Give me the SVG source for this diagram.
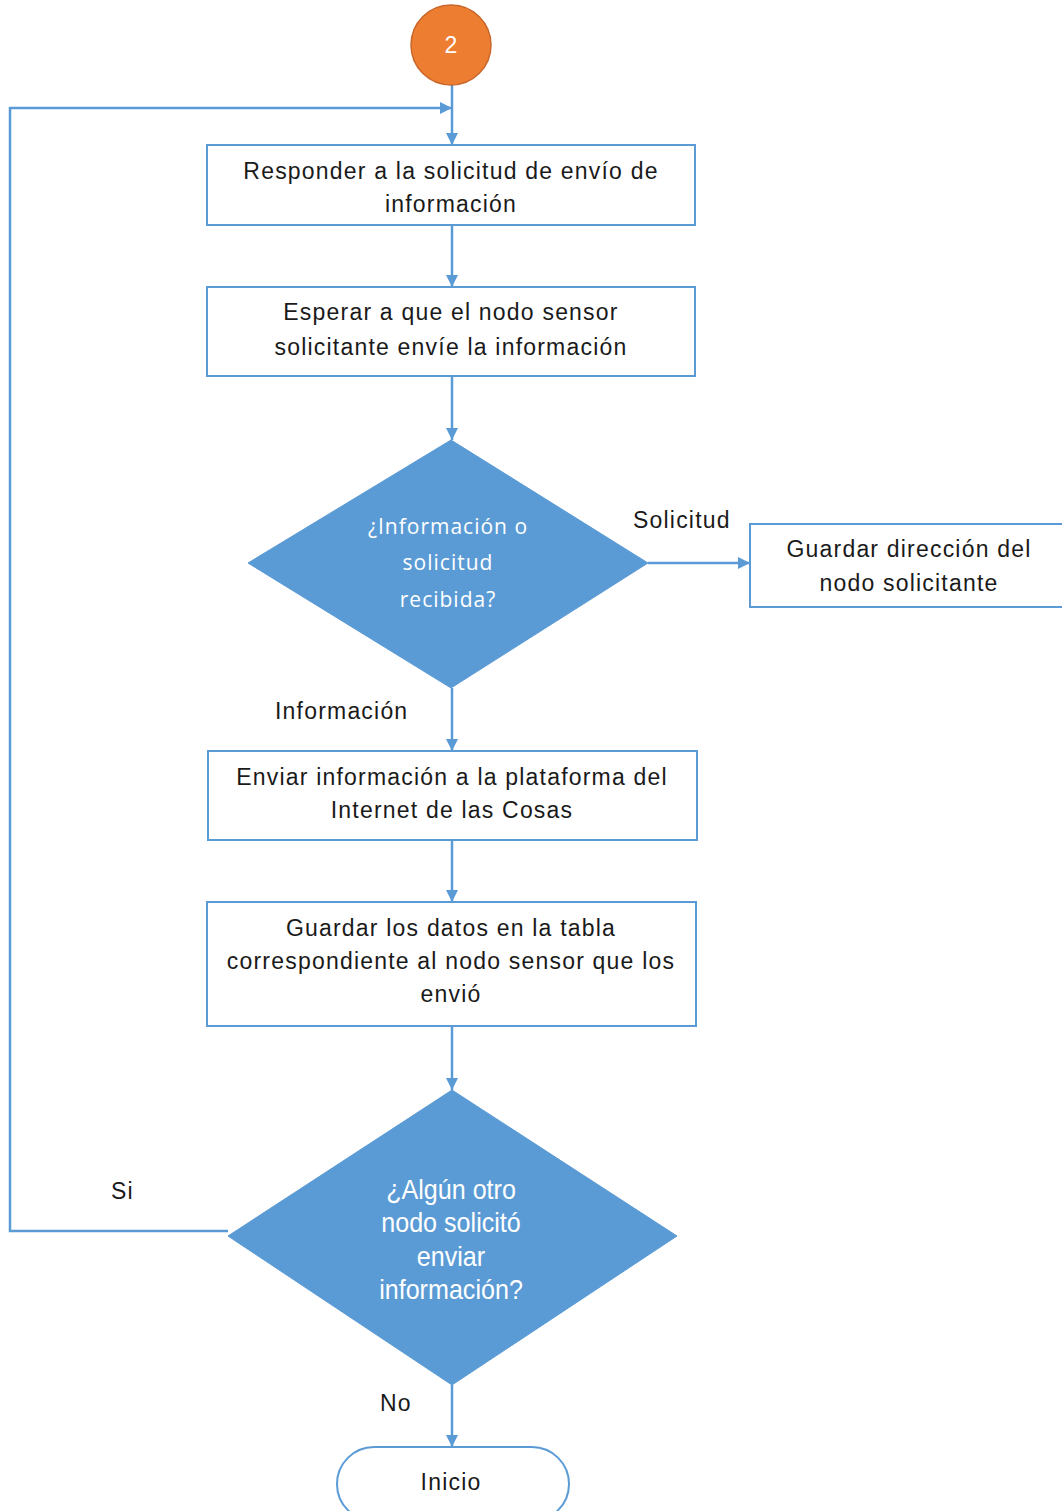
<svg xmlns="http://www.w3.org/2000/svg" width="1062" height="1511" viewBox="0 0 1062 1511">
  <style>
    .box { fill: #ffffff; stroke: #5b9bd5; stroke-width: 2; }
    .dec { fill: #5b9bd5; stroke: #5b9bd5; stroke-width: 1; }
    .txt { font-family: "Liberation Sans", Arial, sans-serif; font-size: 23px; letter-spacing: 1.2px; fill: #1a1a1a; text-anchor: middle; }
    .wtxt { font-family: "Open Sans", "Liberation Sans", sans-serif; font-size: 21px; letter-spacing: 1px; fill: #ffffff; text-anchor: middle; }
    .ntxt { font-family: "Liberation Sans", Arial, sans-serif; font-size: 27px; fill: #ffffff; text-anchor: middle; }
    .ctxt { font-family: "Liberation Sans", Arial, sans-serif; font-size: 23px; fill: #ffffff; text-anchor: middle; }
    .lbl { font-family: "Liberation Sans", Arial, sans-serif; font-size: 23px; letter-spacing: 1.2px; fill: #1a1a1a; }
    .conn { fill: none; stroke: #5b9bd5; stroke-width: 2.5; marker-end: url(#arrow); }
  </style>
  <defs>
    <marker id="arrow" viewBox="0 0 10 10" refX="10" refY="5" markerWidth="5" markerHeight="5" orient="auto" markerUnits="strokeWidth">
      <path d="M0,0 L10,5 L0,10 z" fill="#5b9bd5"/>
    </marker>
  </defs>

  <rect width="1062" height="1511" fill="#ffffff"/>

  <!-- connectors -->
  <g id="connectors">
    <path class="conn" d="M452,84 V145"/>
    <path class="conn" d="M228,1231 H10 V108 H452"/>
    <path class="conn" d="M452,225 V287"/>
    <path class="conn" d="M452,376 V440"/>
    <path class="conn" d="M648,563 H750"/>
    <path class="conn" d="M452,688 V751"/>
    <path class="conn" d="M452,840 V902"/>
    <path class="conn" d="M452,1026 V1090"/>
    <path class="conn" d="M452,1385 V1447"/>
  </g>

  <!-- start connector circle -->
  <g id="start">
    <circle cx="451" cy="45" r="40" fill="#ed7d31" stroke="#c9662a" stroke-width="1.5"/>
    <text class="ctxt" x="451" y="53">2</text>
  </g>

  <g id="responder">
    <rect class="box" x="207" y="145" width="488" height="80"/>
    <text class="txt" x="451" y="179">Responder a la solicitud de envío de</text>
    <text class="txt" x="451" y="212">información</text>
  </g>

  <g id="esperar">
    <rect class="box" x="207" y="287" width="488" height="89"/>
    <text class="txt" x="451" y="320">Esperar a que el nodo sensor</text>
    <text class="txt" x="451" y="355">solicitante envíe la información</text>
  </g>

  <g id="decision-tipo">
    <polygon class="dec" points="451,440 648,563 451,688 248,563"/>
    <text class="wtxt" x="448" y="534">¿Información o</text>
    <text class="wtxt" x="448" y="570">solicitud</text>
    <text class="wtxt" x="448" y="607">recibida?</text>
  </g>

  <g id="guardar-direccion">
    <rect class="box" x="750" y="524" width="318" height="83"/>
    <text class="txt" x="909" y="557">Guardar dirección del</text>
    <text class="txt" x="909" y="591">nodo solicitante</text>
  </g>

  <g id="enviar">
    <rect class="box" x="208" y="751" width="489" height="89"/>
    <text class="txt" x="452" y="785">Enviar información a la plataforma del</text>
    <text class="txt" x="452" y="818">Internet de las Cosas</text>
  </g>

  <g id="guardar-datos">
    <rect class="box" x="207" y="902" width="489" height="124"/>
    <text class="txt" x="451" y="936">Guardar los datos en la tabla</text>
    <text class="txt" x="451" y="969">correspondiente al nodo sensor que los</text>
    <text class="txt" x="451" y="1002">envió</text>
  </g>

  <g id="decision-otro">
    <polygon class="dec" points="452,1090 677,1236 452,1385 228,1236"/>
    <g transform="translate(451,0) scale(0.93,1)">
      <text class="ntxt" x="0" y="1199">¿Algún otro</text>
      <text class="ntxt" x="0" y="1232">nodo solicitó</text>
      <text class="ntxt" x="0" y="1266">enviar</text>
      <text class="ntxt" x="0" y="1299">información?</text>
    </g>
  </g>

  <g id="inicio">
    <rect class="box" x="337" y="1447" width="232" height="74" rx="37" ry="37"/>
    <text class="txt" x="451" y="1490">Inicio</text>
  </g>

  <!-- branch labels -->
  <g id="labels">
    <text class="lbl" x="633" y="528">Solicitud</text>
    <text class="lbl" x="275" y="719">Información</text>
    <text class="lbl" x="111" y="1199">Si</text>
    <text class="lbl" x="380" y="1411">No</text>
  </g>
</svg>
